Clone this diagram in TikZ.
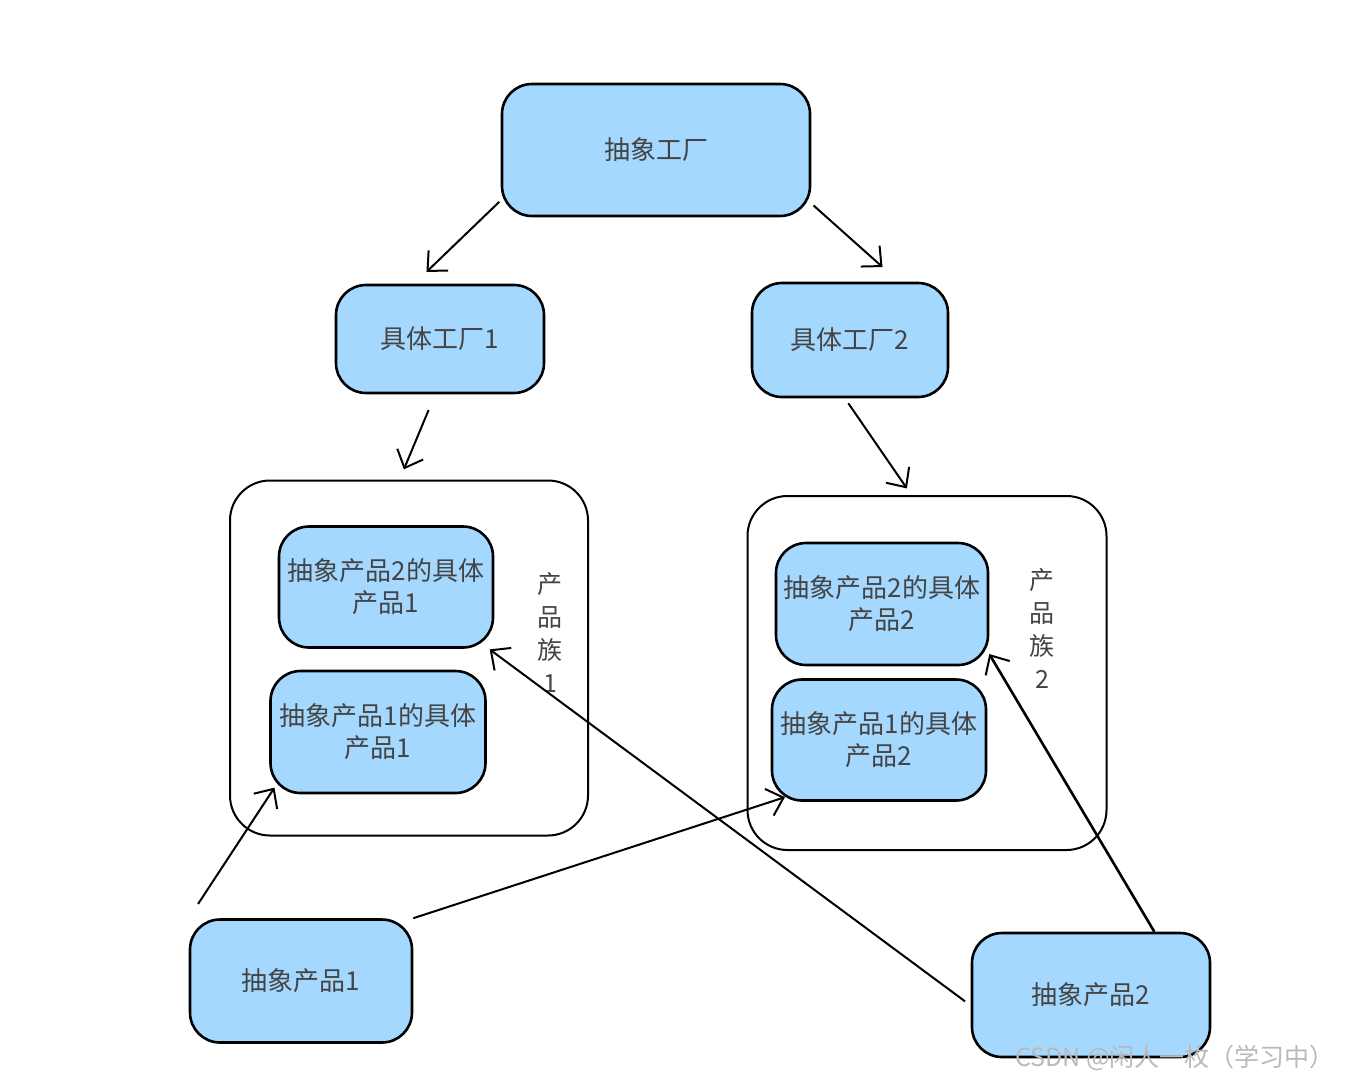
\documentclass[tikz,border=0pt]{standalone}
\usepackage{fontspec}
\setmainfont{Noto Sans CJK SC}
\usetikzlibrary{arrows.meta}
\definecolor{boxblue}{HTML}{A5D8FF}
\definecolor{inkgray}{HTML}{444444}
\tikzset{
  box/.style={draw=black, line width=2.6pt, fill=boxblue, rounded corners=30pt,
    text=inkgray, align=center, font=\fontsize{26}{32}\selectfont, inner sep=0pt},
  family/.style={draw=black, line width=2pt, rounded corners=40pt, inner sep=0pt},
  arr/.style={draw=black, line width=2pt, -{Straight Barb[length=15pt,width=28pt,line width=2pt]}},
  famlabel/.style={text=inkgray, align=center, font=\fontsize{25}{33}\selectfont}
}
\begin{document}
\begin{tikzpicture}[x=1pt,y=1pt,yscale=-1,xscale=1]
\useasboundingbox (0,0) rectangle (1356,1082);

%Shape: Rectangle [abstract factory]
\node[box, minimum width=308pt, minimum height=132pt] (af) at (656,150) {抽象工厂};
%Shape: Rectangle [concrete factories]
\node[box, minimum width=208pt, minimum height=108pt] (cf1) at (440,339) {具体工厂1};
\node[box, minimum width=196pt, minimum height=114pt] (cf2) at (850,340) {具体工厂2};

%Shape: Rectangle [product families]
\node[family, minimum width=358pt, minimum height=355pt] (fam1) at (409,658) {};
\node[family, minimum width=359pt, minimum height=354pt] (fam2) at (927,673) {};

%Shape: Rectangle [concrete products]
\node[box, minimum width=214pt, minimum height=121pt] (p21) at (386,587) {抽象产品2的具体\\产品1};
\node[box, minimum width=215pt, minimum height=122pt] (p11) at (378,732) {抽象产品1的具体\\产品1};
\node[box, minimum width=212pt, minimum height=122pt] (p22) at (882,604) {抽象产品2的具体\\产品2};
\node[box, minimum width=214pt, minimum height=121pt] (p12) at (879,740) {抽象产品1的具体\\产品2};

%Shape: Rectangle [abstract products]
\node[box, minimum width=222pt, minimum height=123pt] (ap1) at (301,981) {抽象产品1};
\node[box, minimum width=238pt, minimum height=124pt] (ap2) at (1091,995) {抽象产品2};

% Text Node
\node[famlabel] (lab1) at (550,632) {产\\品\\族\\1};
% Text Node
\node[famlabel] (lab2) at (1042,628) {产\\品\\族\\2};

%Straight Lines
\draw[arr, shorten <=2pt, shorten >=17pt] (af.198) -- (cf1.115);
\draw[arr, shorten <=3pt, shorten >=22pt] (af.-19) -- (cf2.50);
\draw[arr, shorten <=17pt, shorten >=11pt] (cf1.-95) -- (fam1.93);
\draw[arr, shorten <=6pt, shorten >=8pt] (cf2.-95) -- (fam2.95);
\draw[arr, shorten <=17pt, shorten >=-8pt] (ap1.north west) -- (p11.210);
\draw[arr, shorten >=-15pt] (ap1.north east) -- (p12.south west);
\draw[arr, shorten <=7pt, shorten >=1pt] (ap2.185) -- (p21.-31);
\draw[arr, line width=2.6pt] (ap2.45) -- (p22.-25);

% Text Node
\node[text=gray!55, font=\fontsize{25}{30}\selectfont] (mark) at (1175,1058) {CSDN @闲人一枚（学习中）};

\end{tikzpicture}
\end{document}
